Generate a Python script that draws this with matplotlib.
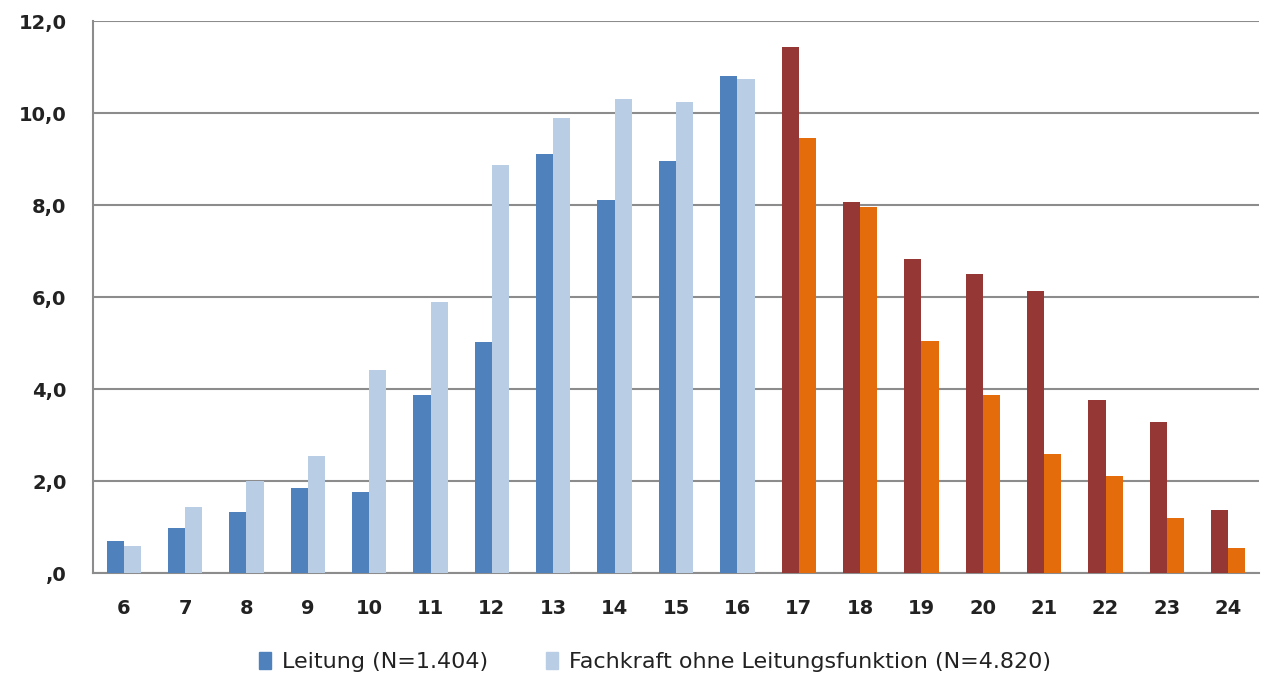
import numpy as np
import matplotlib.pyplot as plt
from matplotlib.ticker import FuncFormatter
from matplotlib.patches import Patch

plt.rcParams['font.family'] = ['DejaVu Sans']

# Werte je Kategorie (6 bis 24)
categories = [6, 7, 8, 9, 10, 11, 12, 13, 14, 15, 16, 17, 18, 19, 20, 21, 22, 23, 24]
leitung = [0.70, 0.97, 1.33, 1.84, 1.77, 3.88, 5.03, 9.10, 8.10, 8.95, 10.80,
           11.43, 8.06, 6.82, 6.50, 6.12, 3.77, 3.29, 1.36]
fachkraft = [0.58, 1.43, 2.00, 2.55, 4.42, 5.90, 8.86, 9.90, 10.30, 10.24, 10.74,
             9.46, 7.96, 5.05, 3.88, 2.59, 2.10, 1.19, 0.55]
labels = ['Leitung (N=1.404)', 'Fachkraft ohne Leitungsfunktion (N=4.820)']

# ab 17 andere Farben
c_dark = ['#4F81BD' if c < 17 else '#953735' for c in categories]
c_light = ['#B9CDE5' if c < 17 else '#E46C0A' for c in categories]

fig = plt.figure(figsize=(12.61, 6.84), dpi=100)
ax = fig.add_axes([93 / 1261, 1 - 573 / 684, 1166 / 1261, 552 / 684])

x = np.arange(len(categories))
w = 0.28
ax.bar(x - w / 2, leitung, w, color=c_dark, zorder=3)
ax.bar(x + w / 2, fachkraft, w, color=c_light, zorder=3)

ax.set_xlim(-0.5, len(categories) - 0.5)
ax.set_ylim(0, 12)
ax.set_yticks(np.arange(0, 13, 2))
ax.yaxis.set_major_formatter(FuncFormatter(
    lambda v, p: ',0' if v == 0 else f'{v:.1f}'.replace('.', ',')))
ax.set_xticks(x)
ax.set_xticklabels(categories)

ax.grid(axis='y', color='#8C8C8C', linewidth=1.5, zorder=0)
for s in ['top', 'right']:
    ax.spines[s].set_visible(False)
for s in ['left', 'bottom']:
    ax.spines[s].set_color('#8C8C8C')
    ax.spines[s].set_linewidth(1.5)
ax.tick_params(axis='both', length=0, labelsize=14, labelcolor='#222222')
ax.tick_params(axis='x', pad=19)
ax.tick_params(axis='y', pad=19)
for t in ax.get_xticklabels() + ax.get_yticklabels():
    t.set_fontweight('bold')

# Legende nur für die beiden blauen Reihen
handles = [Patch(color='#4F81BD'), Patch(color='#B9CDE5')]
fig.legend(handles, labels, loc='center', bbox_to_anchor=(655 / 1261, 1 - 662 / 684),
           ncol=2, frameon=False, fontsize=16, handlelength=0.54, handleheight=0.81,
           handletextpad=0.5, columnspacing=2.6, labelcolor='#222222')

fig.savefig('out.png', dpi=100)
